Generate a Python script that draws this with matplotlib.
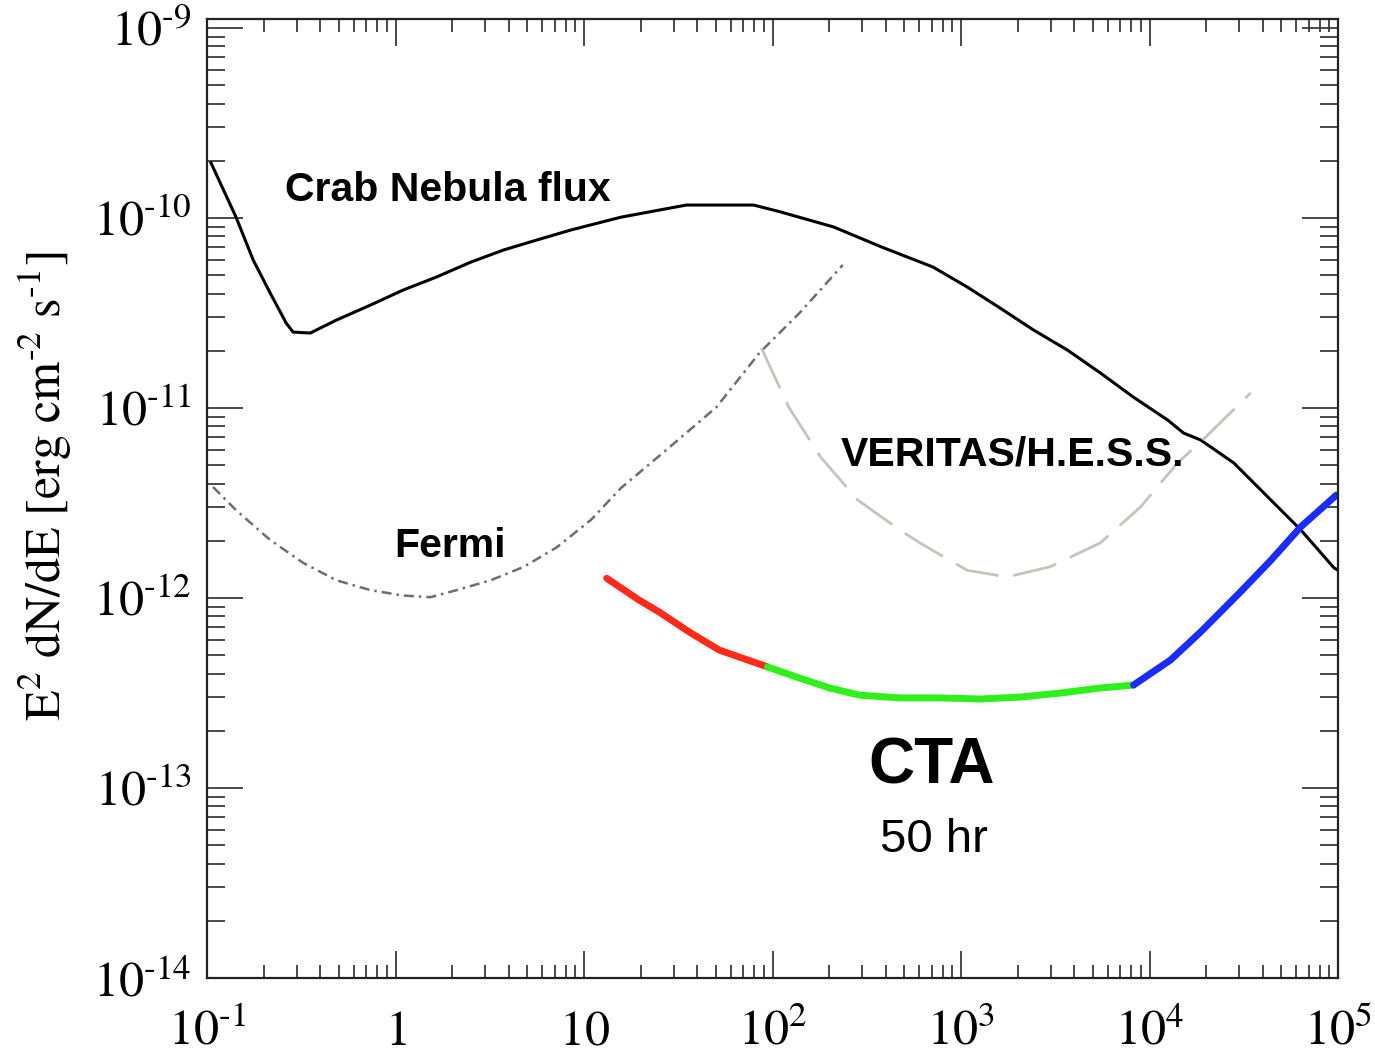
import numpy as np
import matplotlib
matplotlib.use('Agg')
import matplotlib.pyplot as plt
from matplotlib.ticker import LogLocator, NullFormatter, FixedLocator, FixedFormatter

plt.rcParams['mathtext.fontset'] = 'stix'
plt.rcParams['font.family'] = ['Liberation Sans', 'DejaVu Sans']

HY = '\u2010'  # short hyphen used for the exponents

# energy [GeV] and E^2 dN/dE [erg cm^-2 s^-1]
crab_e = [0.105, 0.1426, 0.1758, 0.2163, 0.263, 0.286, 0.353, 0.485, 0.736, 1.10, 1.65,
          2.51, 3.75, 5.62, 8.53, 15.7, 34.9, 79.3, 109, 211, 380, 710, 1076, 1611,
          2415, 3664, 5483, 8222, 12470, 15170, 18660, 27990, 42460, 63530, 95300, 1.0e5]
crab_f = [1.95e-10, 1.01e-10, 6.01e-11, 4.03e-11, 2.80e-11, 2.51e-11, 2.48e-11, 2.90e-11,
          3.48e-11, 4.18e-11, 4.89e-11, 5.86e-11, 6.79e-11, 7.66e-11, 8.65e-11, 1.01e-10,
          1.17e-10, 1.17e-10, 1.08e-10, 8.97e-11, 7.03e-11, 5.52e-11, 4.34e-11,
          3.36e-11, 2.58e-11, 2.02e-11, 1.53e-11, 1.14e-11, 8.65e-12, 7.38e-12, 6.79e-12,
          5.14e-12, 3.40e-12, 2.28e-12, 1.44e-12, 1.40e-12]

fermi_e = [0.1076, 0.1426, 0.2163, 0.324, 0.485, 0.736, 1.10, 1.53, 2.11, 3.20, 4.80,
           7.18, 10.9, 15.7, 27.3, 50.4, 85.3, 139, 236]
fermi_f = [3.84e-12, 2.90e-12, 2.02e-12, 1.53e-12, 1.24e-12, 1.10e-12, 1.03e-12, 1.01e-12,
           1.10e-12, 1.24e-12, 1.46e-12, 1.85e-12, 2.58e-12, 3.79e-12, 6.01e-12, 1.01e-11,
           1.95e-11, 3.16e-11, 5.66e-11]

iact_e = [87.3, 122, 180, 283, 474, 605, 1076, 1758, 2972, 5483, 8953, 14090, 18660, 34430]
iact_f = [2.07e-11, 1.01e-11, 5.52e-12, 3.28e-12, 2.28e-12, 1.95e-12, 1.40e-12, 1.29e-12,
          1.46e-12, 1.95e-12, 3.01e-12, 5.14e-12, 6.62e-12, 1.20e-11]

cta_low_e = [13.2, 19.6, 25.1, 36.2, 52.2, 94.0]
cta_low_f = [1.27e-12, 9.75e-13, 8.43e-13, 6.62e-13, 5.32e-13, 4.34e-13]
cta_mid_e = [94.0, 139, 201, 290, 474, 773, 1262, 2061, 3365, 5483, 8222]
cta_mid_f = [4.34e-13, 3.79e-13, 3.36e-13, 3.08e-13, 2.98e-13, 2.98e-13, 2.94e-13,
             3.01e-13, 3.16e-13, 3.36e-13, 3.48e-13]
cta_high_e = [8222, 12940, 18660, 30480, 44060, 63530, 98000]
cta_high_f = [3.48e-13, 4.72e-13, 6.62e-13, 1.08e-12, 1.58e-12, 2.37e-12, 3.48e-12]

x_ticks = [1e-1, 1, 10, 1e2, 1e3, 1e4, 1e5]
x_labels = ['$10^{' + HY + '1}$', '$1$', '$10$', '$10^{2}$', '$10^{3}$', '$10^{4}$', '$10^{5}$']
y_ticks = [1e-14, 1e-13, 1e-12, 1e-11, 1e-10, 1e-9]
y_labels = ['$10^{' + HY + e + '}$' for e in ['14', '13', '12', '11', '10', '9']]

fig = plt.figure(figsize=(13.75, 10.53), dpi=100)
ax = fig.add_axes([207 / 1375, 75 / 1053, 1131 / 1375, 959 / 1053])

ax.plot(crab_e, crab_f, color='black', lw=2.2, solid_joinstyle='round')
ax.plot(fermi_e, fermi_f, color='#6e6e6e', lw=1.8, dashes=(4, 2, 1, 2))
ax.plot(iact_e, iact_f, color='#c8c2ba', lw=2.0, dashes=(16, 5.5))
ax.plot(cta_low_e, cta_low_f, color='#ff2a1a', lw=5, solid_capstyle='round')
ax.plot(cta_mid_e, cta_mid_f, color='#2ef01a', lw=5, solid_capstyle='round')
ax.plot(cta_high_e, cta_high_f, color='#1a2cff', lw=5, solid_capstyle='round')

ax.set_xscale('log')
ax.set_yscale('log')
ax.set_xlim(1e-1, 1e5)
ax.set_ylim(1e-14, 10 ** (-14 + 959 / 190))

ax.xaxis.set_major_locator(FixedLocator(x_ticks))
ax.xaxis.set_major_formatter(FixedFormatter(x_labels))
ax.yaxis.set_major_locator(FixedLocator(y_ticks))
ax.yaxis.set_major_formatter(FixedFormatter(y_labels))
ax.xaxis.set_minor_locator(LogLocator(base=10, subs=np.arange(2, 10), numticks=50))
ax.yaxis.set_minor_locator(LogLocator(base=10, subs=np.arange(2, 10), numticks=50))
ax.xaxis.set_minor_formatter(NullFormatter())
ax.yaxis.set_minor_formatter(NullFormatter())

ax.tick_params(which='both', direction='in', top=True, right=True, color='#3a3a3a',
               width=1.3, labelsize=36)
ax.tick_params(axis='x', which='major', length=19.5, pad=48)
ax.tick_params(axis='x', which='minor', length=9.5)
ax.tick_params(axis='y', which='major', length=26, pad=11)
ax.tick_params(axis='y', which='minor', length=13)
plt.setp(ax.get_xticklabels(), va='baseline')

for sp in ax.spines.values():
    sp.set_linewidth(1.6)
    sp.set_color('#222222')

ylab = '$\\mathrm{E^{2}\\ dN/dE\\ [erg\\ cm^{' + HY + '2}\\ s^{' + HY + '1}]}$'
ax.set_ylabel(ylab, fontsize=36, va='center')
ax.yaxis.set_label_coords(-0.1432, 0.513)

ax.text(0.2131, 0.8102, 'Crab Nebula flux', transform=ax.transAxes, ha='center',
        va='baseline', fontsize=29.5, fontweight='bold')
ax.text(0.7118, 0.5349, 'VERITAS/H.E.S.S.', transform=ax.transAxes, ha='center',
        va='baseline', fontsize=29.5, fontweight='bold')
ax.text(0.2148, 0.4390, 'Fermi', transform=ax.transAxes, ha='center',
        va='baseline', fontsize=29.5, fontweight='bold')
ax.text(0.6410, 0.2033, 'CTA', transform=ax.transAxes, ha='center',
        va='baseline', fontsize=46, fontweight='bold')
ax.text(0.6428, 0.1314, '50 hr', transform=ax.transAxes, ha='center',
        va='baseline', fontsize=34)

fig.savefig('out.png', dpi=100)
